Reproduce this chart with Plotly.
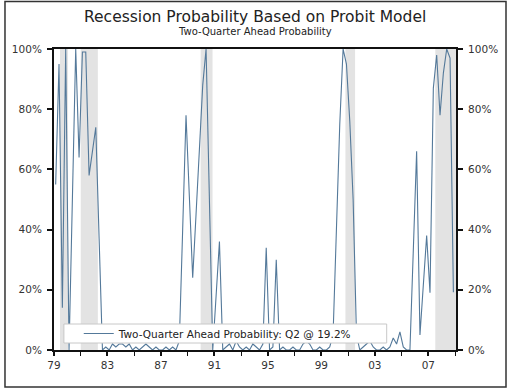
import plotly.graph_objects as go

# ---------------- data ----------------
title_text = "Recession Probability Based on Probit Model"
subtitle_text = "Two-Quarter Ahead Probability"
series_name = "Two-Quarter Ahead Probability: Q2 @ 19.2%"

start_year = 1979
# quarterly probabilities (%), 1979Q1 .. 2008Q4
prob = [
    55, 95, 14, 100, 0, 50, 100, 64, 99, 99, 58, 66, 74, 37, 0,
    1, 0, 2, 1, 2, 2, 1, 2, 0, 1, 0, 1, 2, 1, 0, 1, 0, 0, 1, 0, 1, 0,
    3, 40, 78, 51, 24, 45, 66, 88, 100, 45, 0, 18, 36, 0,
    1, 2, 0, 3, 1, 0, 1, 0, 2, 1, 0,
    2, 34, 0, 1, 30, 0,
    1, 0, 0, 1, 0, 0, 2, 3, 2, 0, 0, 1, 0, 0, 1,
    5, 40, 75, 100, 95, 76, 50, 5,
    0, 1, 2, 3, 1, 0, 0, 1, 0,
    1, 4, 2, 6, 1, 0, 0, 33, 66, 5, 22, 38, 19, 87, 98, 78, 92, 100, 97, 19.2,
]
quarters = [start_year + 0.125 + 0.25 * i for i in range(len(prob))]

# recession periods (decimal years, as placed on the chart)
rec_start = [1979.45, 1981.0, 1989.97, 2000.8, 2007.52]
rec_end = [1980.05, 1982.28, 1990.86, 2001.52, 2009.1]

x_tick_vals = [1979, 1983, 1987, 1991, 1995, 1999, 2003, 2007]
x_tick_text = ["79", "83", "87", "91", "95", "99", "03", "07"]
y_tick_vals = [0, 20, 40, 60, 80, 100]
y_tick_text = ["0%", "20%", "40%", "60%", "80%", "100%"]

# ---------------- layout geometry ----------------
W, H = 510, 389
ML, MR, MT, MB = 51, 53, 49, 39
PW, PH = W - ML - MR, H - MT - MB


def px_x(px):
    return (px - ML) / PW


def px_y(py):
    return (H - MB - py) / PH


FONT = "DejaVu Sans"
LINE_COLOR = "#54799a"

fig = go.Figure()

fig.add_trace(go.Scatter(
    x=quarters, y=prob, mode="lines", name=series_name,
    line=dict(color=LINE_COLOR, width=1.1),
))
# invisible copy on the right axis so it is drawn
fig.add_trace(go.Scatter(
    x=quarters, y=prob, mode="lines", yaxis="y2", showlegend=False,
    line=dict(color="rgba(0,0,0,0)", width=0), hoverinfo="skip",
))

shapes = []
for s, e in zip(rec_start, rec_end):
    shapes.append(dict(type="rect", xref="x", yref="paper", x0=s, x1=e, y0=0, y1=1,
                       fillcolor="#e3e3e3", line=dict(width=0), layer="below"))
# legend box
shapes.append(dict(type="rect", xref="paper", yref="paper",
                   x0=px_x(61), x1=px_x(387), y0=px_y(343), y1=px_y(324),
                   fillcolor="white", line=dict(color="#c8c8c8", width=1), layer="above"))
# outer frame
shapes.append(dict(type="rect", xref="paper", yref="paper",
                   x0=px_x(1.5), x1=px_x(507.5), y0=px_y(387), y1=px_y(1.5),
                   line=dict(color="#333", width=1.5), fillcolor="rgba(0,0,0,0)", layer="above"))

axis_font = dict(family=FONT, size=10.5, color="#333")

fig.update_layout(
    width=W, height=H,
    margin=dict(l=ML, r=MR, t=MT, b=MB, pad=0),
    paper_bgcolor="white", plot_bgcolor="white",
    font=dict(family=FONT),
    shapes=shapes,
    showlegend=True,
    legend=dict(x=px_x(76), y=px_y(333.5), xanchor="left", yanchor="middle",
                bgcolor="rgba(0,0,0,0)", borderwidth=0,
                font=dict(family=FONT, size=10.5, color="#222"),
                itemwidth=30),
    annotations=[
        dict(text=title_text, xref="paper", yref="paper", x=0.5, y=px_y(17),
             xanchor="center", yanchor="middle", showarrow=False,
             font=dict(family=FONT, size=15.5, color="#222")),
        dict(text=subtitle_text, xref="paper", yref="paper", x=0.5, y=px_y(32),
             xanchor="center", yanchor="middle", showarrow=False,
             font=dict(family=FONT, size=10, color="#222")),
    ],
    xaxis=dict(
        range=[1979, 2009.07], tickvals=x_tick_vals, ticktext=x_tick_text,
        ticks="outside", ticklen=4, tickwidth=1.5, tickcolor="#111",
        minor=dict(tick0=1979, dtick=2, ticks="outside", ticklen=4, tickcolor="#111", tickwidth=1),
        showgrid=False, zeroline=False,
        showline=True, linecolor="#111", linewidth=2, mirror=True,
        tickfont=axis_font,
    ),
    yaxis=dict(
        range=[0, 100], tickvals=y_tick_vals, ticktext=y_tick_text,
        ticks="outside", ticklen=5, tickwidth=2, tickcolor="#111",
        showgrid=False, zeroline=False,
        showline=True, linecolor="#111", linewidth=2,
        tickfont=axis_font, ticklabelstandoff=3,
    ),
    yaxis2=dict(
        range=[0, 100], tickvals=y_tick_vals, ticktext=y_tick_text,
        overlaying="y", side="right",
        ticks="outside", ticklen=5, tickwidth=2, tickcolor="#111",
        showgrid=False, zeroline=False,
        showline=True, linecolor="#111", linewidth=2,
        tickfont=axis_font, ticklabelstandoff=3,
    ),
)

fig.write_html("out.html", config={"displayModeBar": False},
               post_script="document.body.style.margin='0';")
